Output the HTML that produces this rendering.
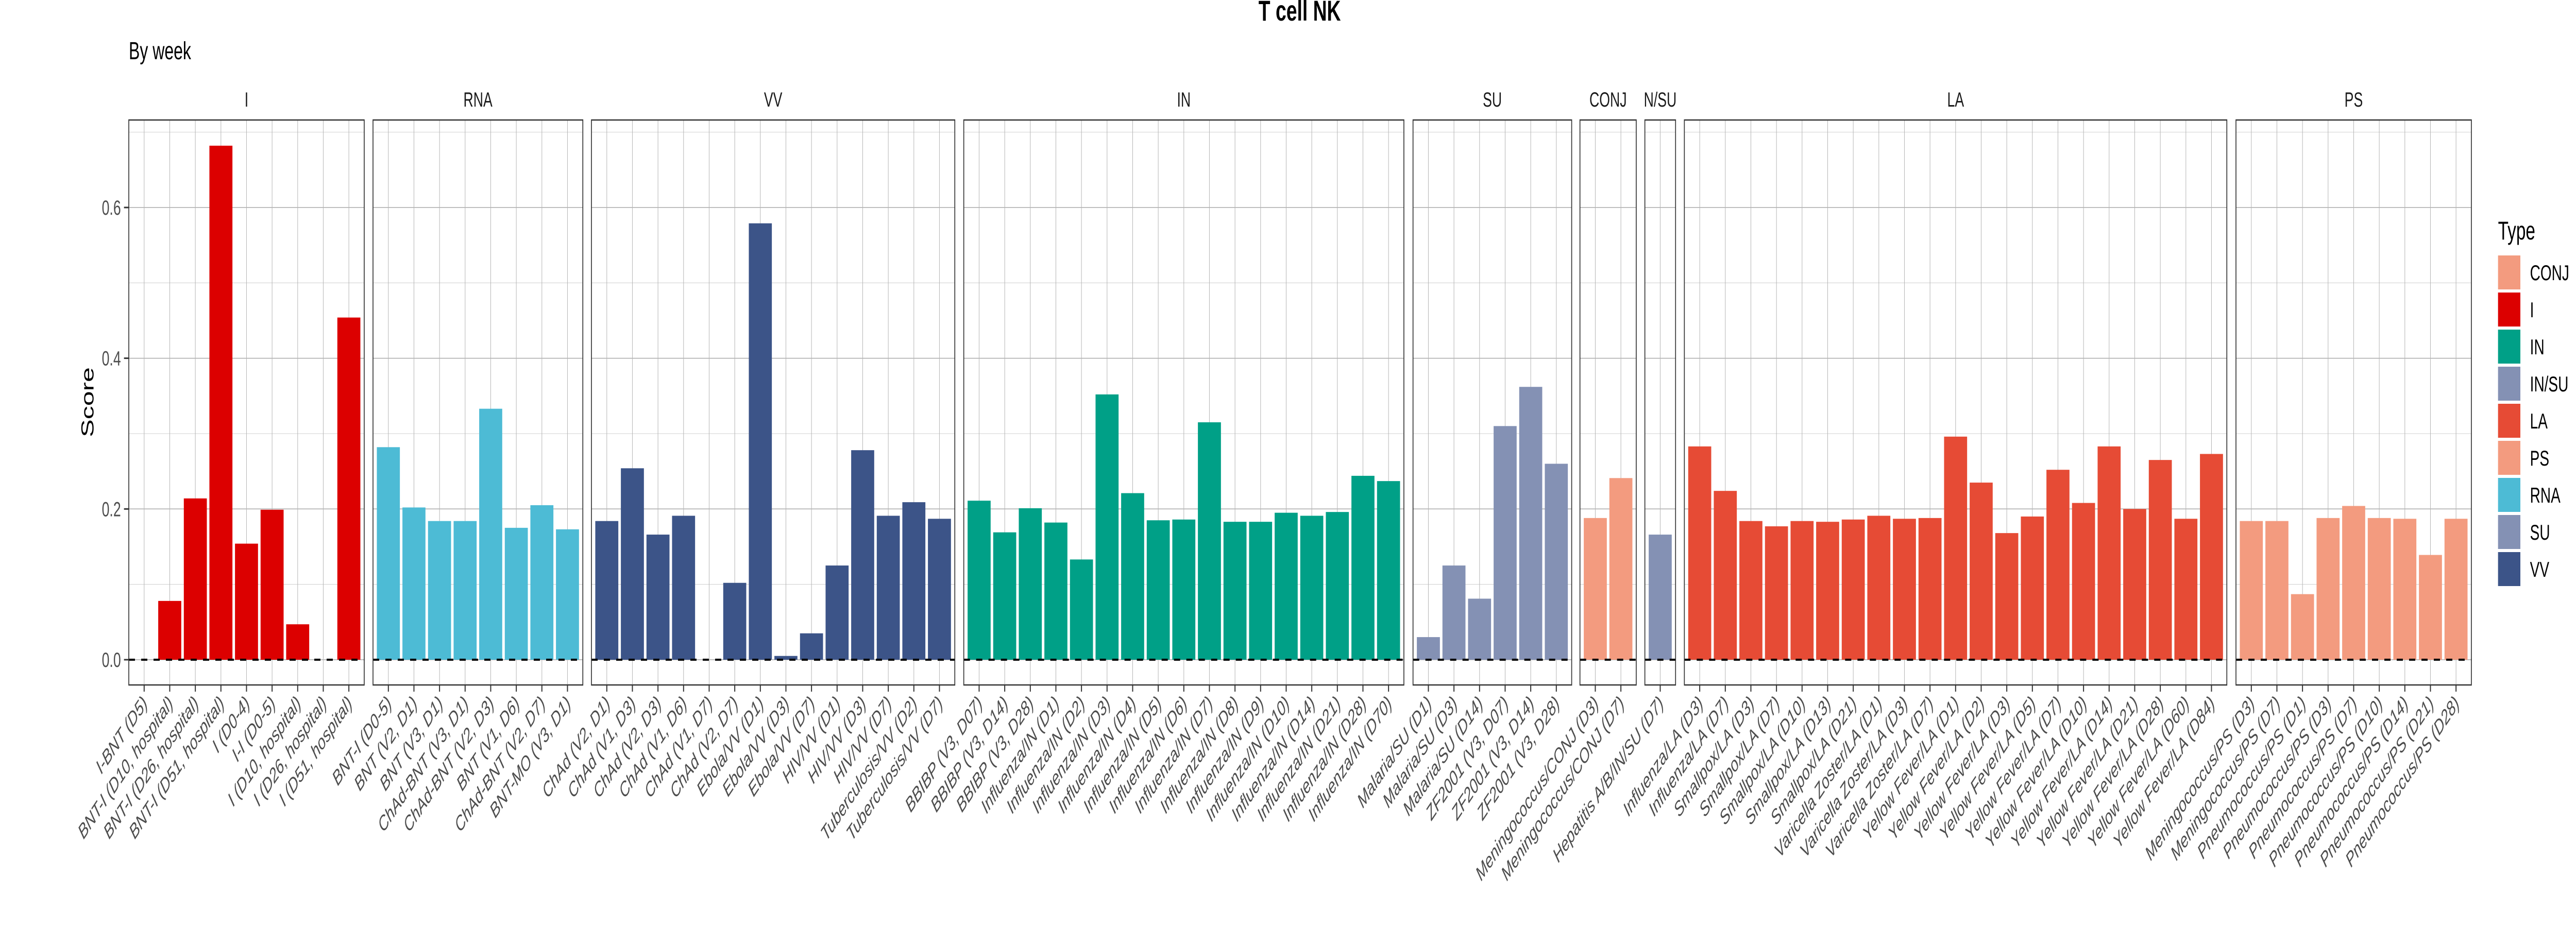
<!DOCTYPE html>
<html><head><meta charset="utf-8">
<style>
html,body{margin:0;padding:0;background:#fff;width:100%;height:100%;overflow:hidden;}
svg{display:block;font-family:"Liberation Sans",sans-serif;width:100vw;height:100vh;}
</style></head>
<body>
<svg id="chart" viewBox="0 0 7500 1800" preserveAspectRatio="none" xmlns="http://www.w3.org/2000/svg">
  <text x="3784" y="40" text-anchor="middle" font-size="56" font-weight="bold">T cell NK</text>
  <text x="375" y="115" font-size="48">By week</text>
  <text transform="translate(272,781) rotate(-90)" text-anchor="middle" font-size="52">Score</text>
  <g id="panels"></g>
  <g id="legend">
    <text x="7273" y="465" font-size="50">Type</text>
  </g>
</svg>
<script>
// ---- data ----
const facetNames = ["I","RNA","VV","IN","SU","CONJ","N/SU","LA","PS"];
const catI = ["I-BNT (D5)","BNT-I (D10, hospital)","BNT-I (D26, hospital)","BNT-I (D51, hospital)","I (D0-4)","I-I (D0-5)","I (D10, hospital)","I (D26, hospital)","I (D51, hospital)"];
const valI = [0,0.078,0.214,0.682,0.154,0.199,0.047,0,0.454];
const catRNA = ["BNT-I (D0-5)","BNT (V2, D1)","BNT (V3, D1)","ChAd-BNT (V3, D1)","ChAd-BNT (V2, D3)","BNT (V1, D6)","ChAd-BNT (V2, D7)","BNT-MO (V3, D1)"];
const valRNA = [0.282,0.202,0.184,0.184,0.333,0.175,0.205,0.173];
const catVV = ["ChAd (V2, D1)","ChAd (V1, D3)","ChAd (V2, D3)","ChAd (V1, D6)","ChAd (V1, D7)","ChAd (V2, D7)","Ebola/VV (D1)","Ebola/VV (D3)","Ebola/VV (D7)","HIV/VV (D1)","HIV/VV (D3)","HIV/VV (D7)","Tuberculosis/VV (D2)","Tuberculosis/VV (D7)"];
const valVV = [0.184,0.254,0.166,0.191,0,0.102,0.579,0.005,0.035,0.125,0.278,0.191,0.209,0.187];
const catIN = ["BBIBP (V3, D07)","BBIBP (V3, D14)","BBIBP (V3, D28)","Influenza/IN (D1)","Influenza/IN (D2)","Influenza/IN (D3)","Influenza/IN (D4)","Influenza/IN (D5)","Influenza/IN (D6)","Influenza/IN (D7)","Influenza/IN (D8)","Influenza/IN (D9)","Influenza/IN (D10)","Influenza/IN (D14)","Influenza/IN (D21)","Influenza/IN (D28)","Influenza/IN (D70)"];
const valIN = [0.211,0.169,0.201,0.182,0.133,0.352,0.221,0.185,0.186,0.315,0.183,0.183,0.195,0.191,0.196,0.244,0.237];
const catSU = ["Malaria/SU (D1)","Malaria/SU (D3)","Malaria/SU (D14)","ZF2001 (V3, D07)","ZF2001 (V3, D14)","ZF2001 (V3, D28)"];
const valSU = [0.030,0.125,0.081,0.310,0.362,0.260];
const catCONJ = ["Meningococcus/CONJ (D3)","Meningococcus/CONJ (D7)"];
const valCONJ = [0.188,0.241];
const catNSU = ["Hepatitis A/B/IN/SU (D7)"];
const valNSU = [0.166];
const catLA = ["Influenza/LA (D3)","Influenza/LA (D7)","Smallpox/LA (D3)","Smallpox/LA (D7)","Smallpox/LA (D10)","Smallpox/LA (D13)","Smallpox/LA (D21)","Varicella Zoster/LA (D1)","Varicella Zoster/LA (D3)","Varicella Zoster/LA (D7)","Yellow Fever/LA (D1)","Yellow Fever/LA (D2)","Yellow Fever/LA (D3)","Yellow Fever/LA (D5)","Yellow Fever/LA (D7)","Yellow Fever/LA (D10)","Yellow Fever/LA (D14)","Yellow Fever/LA (D21)","Yellow Fever/LA (D28)","Yellow Fever/LA (D60)","Yellow Fever/LA (D84)"];
const valLA = [0.283,0.224,0.184,0.177,0.184,0.183,0.186,0.191,0.187,0.188,0.296,0.235,0.168,0.190,0.252,0.208,0.283,0.200,0.265,0.187,0.273];
const catPS = ["Meningococcus/PS (D3)","Meningococcus/PS (D7)","Pneumococcus/PS (D1)","Pneumococcus/PS (D3)","Pneumococcus/PS (D7)","Pneumococcus/PS (D10)","Pneumococcus/PS (D14)","Pneumococcus/PS (D21)","Pneumococcus/PS (D28)"];
const valPS = [0.184,0.184,0.087,0.188,0.204,0.188,0.187,0.139,0.187];
const yTicks = [0,0.2,0.4,0.6];
const yTickLabels = ["0.0","0.2","0.4","0.6"];
const legendTypes = ["CONJ","I","IN","IN/SU","LA","PS","RNA","SU","VV"];

// ---- styling / layout (not data) ----
const colors = {"CONJ":"#F39B7F","I":"#DC0000","IN":"#00A087","IN/SU":"#8491B4","LA":"#E64B35","PS":"#F39B7F","RNA":"#4DBBD5","SU":"#8491B4","VV":"#3C5488","N/SU":"#8491B4"};
const facetCats = [catI,catRNA,catVV,catIN,catSU,catCONJ,catNSU,catLA,catPS];
const facetVals = [valI,valRNA,valVV,valIN,valSU,valCONJ,valNSU,valLA,valPS];
const facetLeft = [375,1086,1722,2806,4114,4600,4789,4904,6510];
const unitPx = 74.5;
const panelTop = 233, panelBottom = 1330;
const yZero = 1281, pxPerUnit = 1463.5;
function yScale(v){ return yZero - v*pxPerUnit; }

const NS = "http://www.w3.org/2000/svg";
function mk(tag, attrs, parent){
  const e = document.createElementNS(NS, tag);
  for (const k in attrs) e.setAttribute(k, attrs[k]);
  parent.appendChild(e);
  return e;
}
const panelsG = document.getElementById('panels');

yTicks.forEach((t,i)=>{
  const y = yScale(t);
  const tk = mk('line',{x1:361,x2:375,y1:y,y2:y,stroke:'#333','stroke-width':3},panelsG);
  
  
  const lb = mk('text',{x:352,y:y+14,'text-anchor':'end','font-size':40,fill:'#4d4d4d'},panelsG);
  
  
  lb.textContent = yTickLabels[i];
});

facetNames.forEach((name,fi)=>{
  const cats = facetCats[fi], vals = facetVals[fi];
  const left = facetLeft[fi];
  const width = (cats.length + 0.2) * unitPx;
  const right = left + width;
  const g = mk('g',{},panelsG);
  
  
  const xPos = i => left + (0.6 + i) * unitPx;
  [0.1,0.3,0.5,0.7].forEach(v=>{
    mk('line',{x1:left,x2:right,y1:yScale(v),y2:yScale(v),stroke:'#d6d6d6','stroke-width':1.2},g);
  });
  yTicks.forEach(t=>{
    mk('line',{x1:left,x2:right,y1:yScale(t),y2:yScale(t),stroke:'#aaaaaa','stroke-width':1.5},g);
  });
  cats.forEach((c,i)=>{
    mk('line',{x1:xPos(i),x2:xPos(i),y1:panelTop,y2:panelBottom,stroke:'#b5b5b5','stroke-width':1.5},g);
  });
  cats.forEach((c,i)=>{
    const v = vals[i];
    const y = yScale(Math.max(v,0));
    const h = Math.abs(yScale(v) - yScale(0));
    const r = mk('rect',{x:xPos(i)-0.45*unitPx,y:y,width:0.9*unitPx,height:h,fill:colors[name]},g);
    
    
  });
  const dl = mk('line',{x1:left,x2:right,y1:yZero,y2:yZero,stroke:'#000','stroke-width':4,'stroke-dasharray':'18 18'},g);
  
  
  const bd = mk('rect',{x:left,y:panelTop,width:width,height:panelBottom-panelTop,fill:'none',stroke:'#333','stroke-width':2.5},g);
  
  
  const st = mk('text',{x:left+width/2,y:207,'text-anchor':'middle','font-size':40,fill:'#1a1a1a'},g);
  
  
  st.textContent = name;
  cats.forEach((c,i)=>{
    const x = xPos(i);
    mk('line',{x1:x,x2:x,y1:panelBottom,y2:panelBottom+13,stroke:'#333','stroke-width':3},g);
    const t = mk('text',{transform:'translate('+(x+12)+','+(panelBottom+38)+') rotate(-45)','text-anchor':'end','font-size':40,'font-style':'italic',fill:'#4d4d4d'},g);
    
    
    t.textContent = c;
  });
});

const legendG = document.getElementById('legend');
legendTypes.forEach((t,i)=>{
  const y = 496 + i*72;
  const k = mk('rect',{x:7273,y:y,width:65,height:66,fill:colors[t]},legendG);
  
  
  const l = mk('text',{x:7366,y:y+48,'font-size':42},legendG);
  
  
  l.textContent = t;
});
</script>
</body></html>
